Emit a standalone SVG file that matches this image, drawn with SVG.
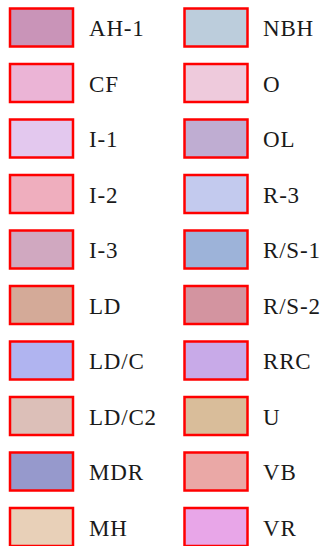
<svg xmlns="http://www.w3.org/2000/svg" width="331" height="546" viewBox="0 0 331 546">
<style>
.sw{stroke:#ff0000;stroke-width:2.5}
.t{font-family:'Liberation Serif','Times New Roman',Times,serif;font-size:23px;fill:#1a1a1a;letter-spacing:0.8px}
</style>
<rect width="331" height="546" fill="#ffffff"/>
<g id="AH-1"><rect class="sw" x="10" y="8.5" width="63" height="38" fill="#c994b8"/><text class="t" x="89" y="36">AH-1</text></g>
<g id="CF"><rect class="sw" x="10" y="64" width="63" height="38" fill="#ebb4d6"/><text class="t" x="89" y="91.5">CF</text></g>
<g id="I-1"><rect class="sw" x="10" y="119.5" width="63" height="38" fill="#e3c8ee"/><text class="t" x="89" y="147">I-1</text></g>
<g id="I-2"><rect class="sw" x="10" y="175" width="63" height="38" fill="#efaebe"/><text class="t" x="89" y="202.5">I-2</text></g>
<g id="I-3"><rect class="sw" x="10" y="230.5" width="63" height="38" fill="#d0a8c0"/><text class="t" x="89" y="258">I-3</text></g>
<g id="LD"><rect class="sw" x="10" y="286" width="63" height="38" fill="#d4aa98"/><text class="t" x="89" y="313.5">LD</text></g>
<g id="LD-C"><rect class="sw" x="10" y="341.5" width="63" height="38" fill="#b0b4f0"/><text class="t" x="89" y="369">LD/C</text></g>
<g id="LD-C2"><rect class="sw" x="10" y="397" width="63" height="38" fill="#dcbfb8"/><text class="t" x="89" y="424.5">LD/C2</text></g>
<g id="MDR"><rect class="sw" x="10" y="452.5" width="63" height="38" fill="#9699cc"/><text class="t" x="89" y="480">MDR</text></g>
<g id="MH"><rect class="sw" x="10" y="508" width="63" height="38" fill="#e8d0b8"/><text class="t" x="89" y="535.5">MH</text></g>
<g id="NBH"><rect class="sw" x="184.5" y="8.5" width="63" height="38" fill="#bccddc"/><text class="t" x="263" y="36">NBH</text></g>
<g id="O"><rect class="sw" x="184.5" y="64" width="63" height="38" fill="#eecadc"/><text class="t" x="263" y="91.5">O</text></g>
<g id="OL"><rect class="sw" x="184.5" y="119.5" width="63" height="38" fill="#bfadd2"/><text class="t" x="263" y="147">OL</text></g>
<g id="R-3"><rect class="sw" x="184.5" y="175" width="63" height="38" fill="#c3caee"/><text class="t" x="263" y="202.5">R-3</text></g>
<g id="R-S-1"><rect class="sw" x="184.5" y="230.5" width="63" height="38" fill="#9db3d9"/><text class="t" x="263" y="258">R/S-1</text></g>
<g id="R-S-2"><rect class="sw" x="184.5" y="286" width="63" height="38" fill="#d394a0"/><text class="t" x="263" y="313.5">R/S-2</text></g>
<g id="RRC"><rect class="sw" x="184.5" y="341.5" width="63" height="38" fill="#c8aae8"/><text class="t" x="263" y="369">RRC</text></g>
<g id="U"><rect class="sw" x="184.5" y="397" width="63" height="38" fill="#d9bd9a"/><text class="t" x="263" y="424.5">U</text></g>
<g id="VB"><rect class="sw" x="184.5" y="452.5" width="63" height="38" fill="#eaa8a6"/><text class="t" x="263" y="480">VB</text></g>
<g id="VR"><rect class="sw" x="184.5" y="508" width="63" height="38" fill="#e8a6e8"/><text class="t" x="263" y="535.5">VR</text></g>
</svg>
